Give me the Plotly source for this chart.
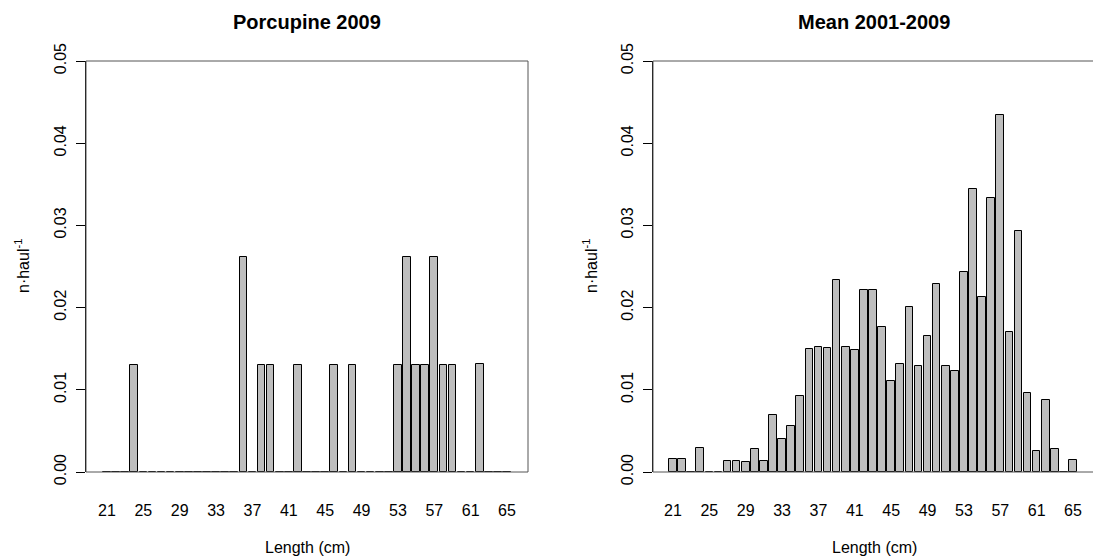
import plotly.graph_objects as go

# Length classes (cm)
lengths = list(range(21, 66))

# Porcupine 2009 (n per haul)
porcupine_2009 = [
    0, 0, 0, 0.0130, 0, 0, 0, 0, 0, 0,          # 21-30
    0, 0, 0, 0, 0, 0.0261, 0, 0.0130, 0.0130, 0,  # 31-40
    0, 0.0130, 0, 0, 0, 0.0130, 0, 0.0130, 0, 0,  # 41-50
    0, 0, 0.0130, 0.0261, 0.0130, 0.0130, 0.0261, 0.0130, 0.0130, 0,  # 51-60
    0, 0.0132, 0, 0, 0,                           # 61-65
]

# Mean 2001-2009 (n per haul)
mean_2001_2009 = [
    0.00154, 0.00154, 0, 0.00296, 0, 0, 0.00138, 0.00138, 0.00126, 0.00283,  # 21-30
    0.00138, 0.00692, 0.00397, 0.00563, 0.00923, 0.01498, 0.01526, 0.01510, 0.02332, 0.01526,  # 31-40
    0.01486, 0.02219, 0.02219, 0.01769, 0.01105, 0.01312, 0.02012, 0.01291, 0.01656, 0.02291,  # 41-50
    0.01291, 0.01231, 0.02433, 0.03441, 0.02130, 0.03332, 0.04344, 0.01704, 0.02931, 0.00960,  # 51-60
    0.00251, 0.00870, 0.00279, 0, 0.00146,  # 61-65
]

tick_vals = list(range(21, 66, 4))
y_ticks = [0.0, 0.01, 0.02, 0.03, 0.04, 0.05]

panel_titles = ["Porcupine 2009", "Mean 2001-2009"]
x_title = "Length (cm)"
y_title = "n\u00b7haul<sup>-1</sup>"

W, H = 1093, 558
FONT = "Liberation Sans, Arial, sans-serif"
BAR_FILL = "#BEBEBE"

# pixel geometry
y_bot_px, y_top_px = 472, 61
ydom = [(H - y_bot_px) / H, (H - y_top_px) / H]
left_dom = [86 / W, 528 / W]
right_dom = [653 / W, 1.0]

fig = go.Figure()

for data, xa, ya in [(porcupine_2009, "x", "y"), (mean_2001_2009, "x2", "y2")]:
    fig.add_trace(go.Bar(
        x=lengths, y=data, width=0.833,
        marker=dict(color=BAR_FILL, line=dict(color="black", width=1)),
        xaxis=xa, yaxis=ya, showlegend=False, hoverinfo="x+y",
    ))

xaxis_common = dict(
    tickmode="array", tickvals=tick_vals, ticktext=[str(v) for v in tick_vals],
    showgrid=False, zeroline=False, showline=False, automargin=False,
    ticks="outside", ticklen=24, tickcolor="rgba(0,0,0,0)",
    tickfont=dict(family=FONT, size=16, color="black"),
    fixedrange=True,
)
yaxis_common = dict(
    range=[0, 0.05], tickmode="array", tickvals=y_ticks,
    ticktext=["%.2f" % v for v in y_ticks], tickangle=-90,
    showgrid=False, zeroline=False, showline=True, linecolor="black", linewidth=1,
    automargin=False,
    ticks="outside", ticklen=9, tickcolor="black", tickwidth=1,
    ticklabelstandoff=4,
    tickfont=dict(family=FONT, size=16, color="black"),
    domain=ydom, fixedrange=True,
)

fig.update_layout(
    template="none",
    width=W, height=H, margin=dict(l=0, r=0, t=0, b=0, autoexpand=False),
    paper_bgcolor="white", plot_bgcolor="white",
    bargap=0,
    xaxis=dict(xaxis_common, domain=left_dom, range=[18.69, 67.31], anchor="y"),
    yaxis=dict(yaxis_common, anchor="x"),
    xaxis2=dict(xaxis_common, domain=right_dom, range=[18.8, 67.2], anchor="y2"),
    yaxis2=dict(yaxis_common, anchor="x2"),
)

# boxes
fig.add_shape(type="rect", xref="x domain", yref="y domain", x0=0, x1=1, y0=0, y1=1,
              line=dict(color="#555555", width=1), layer="above")
fig.add_shape(type="rect", xref="x2 domain", yref="y2 domain", x0=0, x1=1.02, y0=0, y1=1,
              line=dict(color="#555555", width=1), layer="above")

annotations = []
for title, dom, ytx in [(panel_titles[0], left_dom, 22 / W), (panel_titles[1], [653 / W, 1095 / W], 590 / W)]:
    cx = (dom[0] + dom[1]) / 2
    annotations.append(dict(text="<b>%s</b>" % title, x=cx, y=(H - 22) / H, xref="paper", yref="paper",
                            xanchor="center", yanchor="middle", showarrow=False,
                            font=dict(family=FONT, size=20, color="black")))
    annotations.append(dict(text=x_title, x=cx, y=(H - 547) / H, xref="paper", yref="paper",
                            xanchor="center", yanchor="middle", showarrow=False,
                            font=dict(family=FONT, size=16, color="black")))
    annotations.append(dict(text=y_title, x=ytx, y=(H - 266) / H, xref="paper", yref="paper",
                            xanchor="center", yanchor="middle", showarrow=False, textangle=-90,
                            font=dict(family=FONT, size=16, color="black")))
fig.update_layout(annotations=annotations)

fig.write_html("out.html")
